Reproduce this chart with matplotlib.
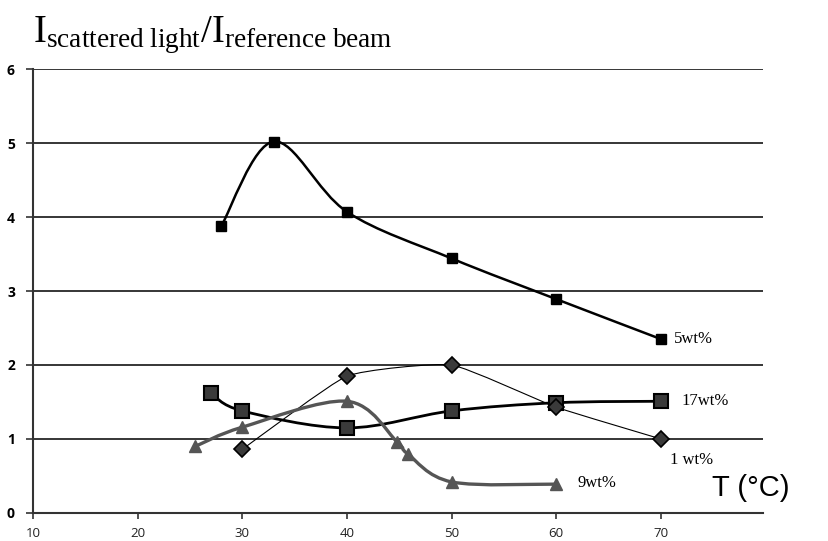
import matplotlib
matplotlib.use("Agg")
import matplotlib.pyplot as plt
from matplotlib.path import Path
from matplotlib.patches import PathPatch
import numpy as np

plt.rcParams['mathtext.fontset'] = 'custom'
plt.rcParams['mathtext.rm'] = 'Liberation Serif'
plt.rcParams['mathtext.it'] = 'Liberation Serif:italic'

# ---- data ----
t_5 = [28, 33, 40, 50, 60, 70]
i_5 = [3.88, 5.02, 4.07, 3.44, 2.89, 2.35]

t_17 = [27, 30, 40, 50, 60, 70]
i_17 = [1.62, 1.38, 1.15, 1.38, 1.49, 1.51]

t_1 = [30, 40, 50, 60, 70]
i_1 = [0.86, 1.85, 2.00, 1.43, 1.00]

t_9 = [25.5, 30, 40, 44.8, 45.8, 50, 60]
i_9 = [0.90, 1.16, 1.51, 0.96, 0.80, 0.42, 0.39]

x_ticks = [10, 20, 30, 40, 50, 60, 70]
y_ticks = [0, 1, 2, 3, 4, 5, 6]


def smooth_path(xs, ys, k=1.0):
    """Excel-like smoothed line as cubic Bezier segments through the points."""
    P = np.column_stack([xs, ys]).astype(float)
    n = len(P)
    verts = [P[0]]
    codes = [Path.MOVETO]
    for i in range(n - 1):
        p0 = P[i - 1] if i > 0 else P[i]
        p1 = P[i]
        p2 = P[i + 1]
        p3 = P[i + 2] if i + 2 < n else P[i + 1]
        c1 = p1 + (p2 - p0) * k / 6.0
        c2 = p2 - (p3 - p1) * k / 6.0
        verts += [c1, c2, p2]
        codes += [Path.CURVE4] * 3
    return Path(verts, codes)


fig = plt.figure(figsize=(8.29, 5.41), dpi=100)
ax = fig.add_axes([33 / 829, 28 / 541, 730 / 829, 444 / 541])
ax.set_xlim(10, 79.75)
ax.set_ylim(0, 6)

# gridlines
ax.set_yticks(y_ticks)
ax.set_xticks(x_ticks)
ax.yaxis.grid(True, color='black', linewidth=1.1)
ax.set_axisbelow(True)
for s in ['top', 'right']:
    ax.spines[s].set_visible(False)
for s in ['left', 'bottom']:
    ax.spines[s].set_color('#333333')
    ax.spines[s].set_linewidth(1.5)

ax.tick_params(axis='y', direction='out', length=5, width=1.2, color='#333333',
               pad=8, labelsize=10)
ax.tick_params(axis='x', direction='out', length=4, width=1.2, color='#333333',
               pad=6, labelsize=9.5, labelcolor='#222222')
for lab in ax.get_yticklabels():
    lab.set_fontfamily('Open Sans')
    lab.set_fontweight('bold')
for lab in ax.get_xticklabels():
    lab.set_fontfamily('Open Sans')

# series lines
series = [
    (t_5, i_5, 'black', 1.8, 1.0),
    (t_17, i_17, 'black', 2.0, 1.0),
    (t_1, i_1, 'black', 0.8, 0.45),
    (t_9, i_9, '#555555', 2.4, 1.0),
]
for xs, ys, col, lw, k in series:
    ax.add_patch(PathPatch(smooth_path(xs, ys, k), fill=False, edgecolor=col,
                           linewidth=lw, transform=ax.transData, zorder=3,
                           clip_on=False))

# markers
ax.plot(t_5, i_5, linestyle='none', marker='s', markersize=7,
        markerfacecolor='black', markeredgecolor='black', zorder=4)
ax.plot(t_17, i_17, linestyle='none', marker='s', markersize=10,
        markerfacecolor='#3a3a3a', markeredgecolor='black', markeredgewidth=1.5, zorder=4)
ax.plot(t_1, i_1, linestyle='none', marker='D', markersize=8.5,
        markerfacecolor='#3a3a3a', markeredgecolor='black', markeredgewidth=1.2, zorder=4)
ax.plot(t_9, i_9, linestyle='none', marker='^', markersize=8,
        markerfacecolor='#555555', markeredgecolor='#555555', zorder=4)

# series labels
serif = 'Liberation Serif'
ax.text(71.2, 2.35, '5wt%', fontfamily=serif, fontsize=12, va='center', ha='left')
ax.text(72.0, 1.52, '17wt%', fontfamily=serif, fontsize=12, va='center', ha='left')
ax.text(70.9, 0.72, '1 wt%', fontfamily=serif, fontsize=12, va='center', ha='left')
ax.text(62.0, 0.41, '9wt%', fontfamily=serif, fontsize=12, va='center', ha='left')

# axis titles
fig.text(712 / 829, 1 - 488 / 541, 'T (\u00b0C)', fontfamily='Liberation Sans',
         fontsize=21, va='center', ha='left')
fig.text(33 / 829, 1 - 42 / 541,
         r'$\mathrm{I_{scattered\ light}/I_{reference\ beam}}$',
         fontsize=28, va='baseline', ha='left')

fig.savefig('out.png', dpi=100)
